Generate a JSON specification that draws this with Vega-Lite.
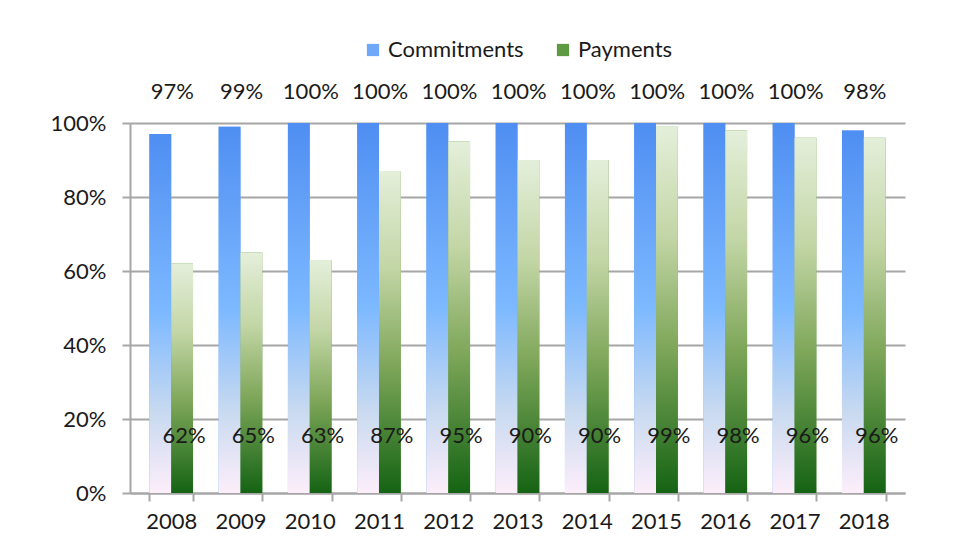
{
  "$schema": "https://vega.github.io/schema/vega-lite/v6.json",
  "width": 775,
  "height": 370,
  "autosize": {"type": "none"},
  "padding": {"left": 130, "top": 123, "right": 55, "bottom": 65},
  "background": "white",
  "config": {
    "font": "Lato",
    "view": {"stroke": null},
    "axis": {"labelFont": "Lato", "labelColor": "#1a1a1a", "labelFontSize": 22},
    "legend": {"layout": {"top": {"anchor": "middle"}}}
  },
  "data": {
    "values": [
      {"year": "2008", "series": "Commitments", "value": 0.97, "label": "97%"},
      {"year": "2009", "series": "Commitments", "value": 0.99, "label": "99%"},
      {"year": "2010", "series": "Commitments", "value": 1.0, "label": "100%"},
      {"year": "2011", "series": "Commitments", "value": 1.0, "label": "100%"},
      {"year": "2012", "series": "Commitments", "value": 1.0, "label": "100%"},
      {"year": "2013", "series": "Commitments", "value": 1.0, "label": "100%"},
      {"year": "2014", "series": "Commitments", "value": 1.0, "label": "100%"},
      {"year": "2015", "series": "Commitments", "value": 1.0, "label": "100%"},
      {"year": "2016", "series": "Commitments", "value": 1.0, "label": "100%"},
      {"year": "2017", "series": "Commitments", "value": 1.0, "label": "100%"},
      {"year": "2018", "series": "Commitments", "value": 0.98, "label": "98%"},
      {"year": "2008", "series": "Payments", "value": 0.62, "label": "62%"},
      {"year": "2009", "series": "Payments", "value": 0.65, "label": "65%"},
      {"year": "2010", "series": "Payments", "value": 0.63, "label": "63%"},
      {"year": "2011", "series": "Payments", "value": 0.87, "label": "87%"},
      {"year": "2012", "series": "Payments", "value": 0.95, "label": "95%"},
      {"year": "2013", "series": "Payments", "value": 0.90, "label": "90%"},
      {"year": "2014", "series": "Payments", "value": 0.90, "label": "90%"},
      {"year": "2015", "series": "Payments", "value": 0.99, "label": "99%"},
      {"year": "2016", "series": "Payments", "value": 0.98, "label": "98%"},
      {"year": "2017", "series": "Payments", "value": 0.96, "label": "96%"},
      {"year": "2018", "series": "Payments", "value": 0.96, "label": "96%"}
    ]
  },
  "encoding": {
    "x": {
      "field": "year", "type": "nominal", "title": null,
      "scale": {"paddingInner": 0.37, "paddingOuter": 0.28},
      "axis": {"labelAngle": 0, "domainColor": "#a6a6a6", "domainWidth": 2, "tickColor": "#a6a6a6", "tickWidth": 2, "tickSize": 8, "tickBand": "extent", "labelPadding": 10}
    },
    "xOffset": {"field": "series", "type": "nominal", "sort": ["Commitments", "Payments"]}
  },
  "layer": [
    {
      "mark": {"type": "bar"},
      "encoding": {
        "y": {
          "field": "value", "type": "quantitative", "title": null,
          "scale": {"domain": [0, 1]},
          "axis": {"format": "%", "values": [0, 0.2, 0.4, 0.6, 0.8, 1], "domainColor": "#a6a6a6", "domainWidth": 2, "tickColor": "#a6a6a6", "tickWidth": 2, "tickSize": 8, "gridColor": "#a6a6a6", "gridWidth": 2, "labelPadding": 16}
        },
        "color": {
          "field": "series", "type": "nominal", "title": null,
          "sort": ["Commitments", "Payments"],
          "scale": {"domain": ["Commitments", "Payments"], "range": ["#6FA8F8", "#5E9A42"]},
          "legend": {"orient": "top", "direction": "horizontal", "offset": 62, "labelFontSize": 22, "labelFont": "Lato", "labelColor": "#1a1a1a", "symbolType": "square", "symbolSize": 150, "symbolStrokeWidth": 0, "columnPadding": 28}
        }
      }
    },
    {
      "mark": {"type": "bar"},
      "encoding": {
        "y": {"field": "value", "type": "quantitative"},
        "fill": {
          "condition": {
            "test": "datum.series === 'Commitments'",
            "value": {"gradient": "linear", "x1": 0, "y1": 0, "x2": 0, "y2": 1, "stops": [{"offset": 0, "color": "#4F8EF2"}, {"offset": 0.5, "color": "#7DB9FF"}, {"offset": 0.78, "color": "#C9DAF0"}, {"offset": 1, "color": "#FDEEFA"}]}
          },
          "value": {"gradient": "linear", "x1": 0, "y1": 0, "x2": 0, "y2": 1, "stops": [{"offset": 0, "color": "#E4EFDA"}, {"offset": 0.3, "color": "#C3D6A6"}, {"offset": 0.6, "color": "#7FA75A"}, {"offset": 1, "color": "#156314"}]}
        }
      }
    },
    {
      "transform": [{"filter": "datum.series === 'Commitments'"}],
      "mark": {"type": "text", "fontSize": 22, "font": "Lato", "color": "#1a1a1a", "dy": -31, "dx": 12},
      "encoding": {
        "y": {"datum": 1, "type": "quantitative"},
        "text": {"field": "label"}
      }
    },
    {
      "transform": [{"filter": "datum.series === 'Payments'"}],
      "mark": {"type": "text", "fontSize": 22, "font": "Lato", "color": "#1a1a1a", "dx": 2},
      "encoding": {
        "y": {"datum": 0.155, "type": "quantitative"},
        "text": {"field": "label"}
      }
    }
  ]
}
